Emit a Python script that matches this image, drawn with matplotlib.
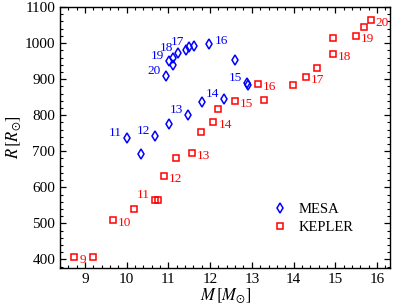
import matplotlib
matplotlib.use('Agg')
import matplotlib.pyplot as plt
from matplotlib.ticker import MultipleLocator

plt.rcParams['font.family'] = 'Liberation Serif'
plt.rcParams['mathtext.fontset'] = 'stix'

# MESA models: final mass, radius
mesa_m = [10.0, 10.34, 10.68, 11.02, 11.48, 11.80, 12.33, 12.59, 12.88, 12.92,
          11.98, 11.62, 11.50, 11.42, 11.24, 11.12, 11.02, 11.10, 10.94]
mesa_r = [738, 693, 742, 775, 800, 837, 846, 954, 889, 884,
          998, 991, 989, 981, 972, 958, 949, 938, 909]
# labelled MESA points (index, label)
mesa_lab = [(0, '11'), (2, '12'), (4, '13'), (6, '14'), (8, '15'),
            (10, '16'), (12, '17'), (14, '18'), (16, '19'), (18, '20')]

# KEPLER models
kep_m = [8.74, 9.20, 9.66, 10.18, 10.68, 10.76, 10.89, 11.18, 11.56, 11.77,
         12.08, 12.20, 12.60, 13.14, 13.28, 13.99, 14.30, 14.57, 14.94, 14.94,
         15.50, 15.68, 15.85]
kep_r = [407, 407, 509, 539, 566, 566, 632, 680, 696, 754,
         780, 818, 840, 886, 843, 883, 906, 931, 970, 1014,
         1020, 1046, 1063]
kep_lab = [(0, '9'), (2, '10'), (4, '11'), (6, '12'), (8, '13'), (10, '14'),
           (12, '15'), (13, '16'), (16, '17'), (18, '18'), (20, '19'), (22, '20')]

fig = plt.figure(figsize=(3.95, 3.06), dpi=100)
ax = fig.add_axes([0.152, 0.124, 0.836, 0.853])

ax.plot(mesa_m, mesa_r, linestyle='none', marker='d', markersize=5,
        markerfacecolor='none', markeredgecolor='blue', markeredgewidth=1.1, label='MESA')
ax.plot(kep_m, kep_r, linestyle='none', marker='s', markersize=4.5,
        markerfacecolor='none', markeredgecolor='red', markeredgewidth=1.1, label='KEPLER')

for i, t in mesa_lab:
    if t == '16':
        ax.annotate(t, (mesa_m[i], mesa_r[i]), xytext=(5, 3), textcoords='offset pixels',
                    ha='left', va='center', color='blue', fontsize=9.5)
    else:
        ax.annotate(t, (mesa_m[i], mesa_r[i]), xytext=(-5, 5), textcoords='offset pixels',
                    ha='right', va='center', color='blue', fontsize=9.5)

for i, t in kep_lab:
    if t == '11':
        ax.annotate(t, (kep_m[i], kep_r[i]), xytext=(-5, 5), textcoords='offset pixels',
                    ha='right', va='center', color='red', fontsize=9.5)
    else:
        ax.annotate(t, (kep_m[i], kep_r[i]), xytext=(5, -3), textcoords='offset pixels',
                    ha='left', va='center', color='red', fontsize=9.5)

ax.set_xlim(8.4, 16.32)
ax.set_ylim(376, 1100)
ax.xaxis.set_major_locator(MultipleLocator(1))
ax.xaxis.set_minor_locator(MultipleLocator(0.2))
ax.yaxis.set_major_locator(MultipleLocator(100))
ax.yaxis.set_minor_locator(MultipleLocator(20))
ax.tick_params(which='both', direction='in', top=True, right=True, labelsize=11)
ax.tick_params(which='major', length=4.5, width=0.9)
ax.tick_params(which='minor', length=2.3, width=0.8)
for s in ax.spines.values():
    s.set_linewidth(1.0)

ax.set_xlabel(r'$M\,[M_{\odot}]$', fontsize=12, labelpad=0)
ax.set_ylabel(r'$R\,[R_{\odot}]$', fontsize=12, labelpad=1)

ax.legend(loc='center left', bbox_to_anchor=(0.6, 0.19), frameon=False,
          fontsize=10.5, handletextpad=0.7, labelspacing=0.35, handlelength=1.2)

fig.savefig('out.png', dpi=100)
